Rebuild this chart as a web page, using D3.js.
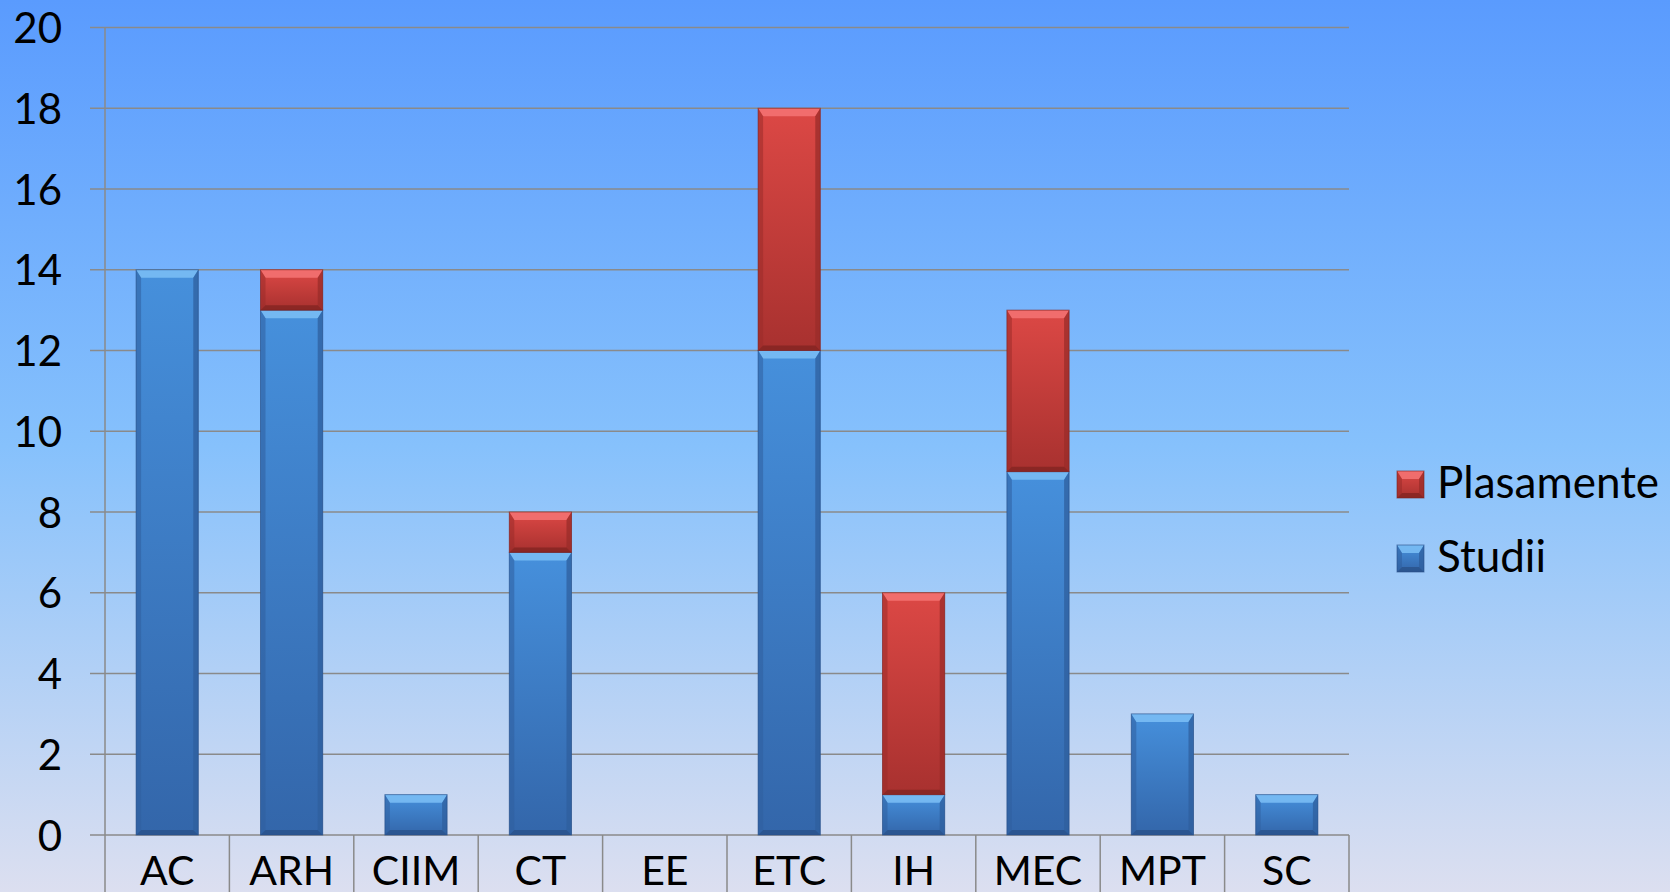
<!DOCTYPE html>
<html>
<head>
<meta charset="utf-8">
<script src="https://cdn.jsdelivr.net/npm/d3@7"></script>
<style>
  html, body { margin: 0; padding: 0; overflow: hidden; }
  svg text { font-family: Lato, "Open Sans", sans-serif; fill: #000; }
</style>
</head>
<body>
<div id="vis"></div>
<script>
// chart values
var categories = ["AC", "ARH", "CIIM", "CT", "EE", "ETC", "IH", "MEC", "MPT", "SC"];
var studii = [14, 13, 1, 7, 0, 12, 1, 9, 3, 1];
var plasamente = [0, 1, 0, 1, 0, 6, 5, 4, 0, 0];
var seriesNames = ["Studii", "Plasamente"];
var yTicks = [0, 2, 4, 6, 8, 10, 12, 14, 16, 18, 20];

var W = 1670, H = 892;
var mLeft = 105, mRight = 1349, mTop = 27.5, mBottom = 835;

var svg = d3.select("#vis").append("svg")
  .attr("width", W).attr("height", H);

var defs = svg.append("defs");
var bg = defs.append("linearGradient").attr("id", "bg")
  .attr("x1", 0).attr("y1", 0).attr("x2", 0).attr("y2", 1);
bg.append("stop").attr("offset", 0).attr("stop-color", "#5a9bfe");
bg.append("stop").attr("offset", 0.5).attr("stop-color", "#86c1fc");
bg.append("stop").attr("offset", 1).attr("stop-color", "#dcdff0");

var colors = {
  Studii: { top: "#4690dc", bot: "#3366aa", hi: "#7cc0f6", side: "#2f5f9e", low: "#284f85" },
  Plasamente: { top: "#dc4845", bot: "#a8312f", hi: "#f47474", side: "#9a2c2a", low: "#7d2220" }
};
seriesNames.forEach(function(k) {
  var g = defs.append("linearGradient").attr("id", "g" + k)
    .attr("x1", 0).attr("y1", 0).attr("x2", 0).attr("y2", 1);
  g.append("stop").attr("offset", 0).attr("stop-color", colors[k].top);
  g.append("stop").attr("offset", 1).attr("stop-color", colors[k].bot);
});

svg.append("rect").attr("width", W).attr("height", H).attr("fill", "url(#bg)");

var x = d3.scaleBand().domain(categories).range([mLeft, mRight])
  .paddingInner(0.5).paddingOuter(0.25);
var y = d3.scaleLinear().domain([0, 20]).range([mBottom, mTop]);

// gridlines
svg.append("g").selectAll("line").data(yTicks).enter().append("line")
  .attr("x1", mLeft - 15).attr("x2", mRight)
  .attr("y1", function(d) { return y(d); }).attr("y2", function(d) { return y(d); })
  .attr("stroke", "#8a8a8a").attr("stroke-width", 1.5);

// category separators
var step = x.step();
svg.append("g").selectAll("line").data(d3.range(categories.length + 1)).enter().append("line")
  .attr("x1", function(i) { return mLeft + i * step; })
  .attr("x2", function(i) { return mLeft + i * step; })
  .attr("y1", function(i) { return i == 0 ? mTop : mBottom; })
  .attr("y2", H)
  .attr("stroke", "#8a8a8a").attr("stroke-width", 1.5);

// y labels
var yAxis = svg.append("g").attr("transform", "translate(" + (mLeft - 15) + ",0)")
  .call(d3.axisLeft(y).tickValues(yTicks).tickSize(0).tickPadding(28));
yAxis.select(".domain").remove();
yAxis.selectAll("text").attr("font-size", 42).attr("dy", "0.36em")
  .style("font-family", "Lato, 'Open Sans', sans-serif").attr("fill", "#000");

// x labels
var xAxis = svg.append("g").attr("transform", "translate(0," + mBottom + ")")
  .call(d3.axisBottom(x).tickSize(0).tickPadding(0));
xAxis.select(".domain").remove();
xAxis.selectAll("text").attr("font-size", 41).attr("y", 50).attr("dy", 0)
  .style("font-family", "Lato, 'Open Sans', sans-serif").attr("fill", "#000");

// stacked bars
var table = categories.map(function(c, i) {
  return { cat: c, Studii: studii[i], Plasamente: plasamente[i] };
});
var stacked = d3.stack().keys(seriesNames)(table);

function bevelBar(g, x0, y0, w, h, c, fillId) {
  if (h <= 0) return;
  var bt = Math.min(8, h / 2), bs = 5, bb = Math.min(5, h / 2);
  g.append("rect").attr("x", x0).attr("y", y0).attr("width", w).attr("height", h)
    .attr("fill", "url(#" + fillId + ")");
  // top face
  g.append("polygon").attr("points", [
    [x0, y0], [x0 + w, y0], [x0 + w - bs, y0 + bt], [x0 + bs, y0 + bt]
  ].join(" ")).attr("fill", c.hi).attr("opacity", 0.85);
  // left / right faces
  g.append("polygon").attr("points", [
    [x0, y0], [x0 + bs, y0 + bt], [x0 + bs, y0 + h - bb], [x0, y0 + h]
  ].join(" ")).attr("fill", c.side).attr("opacity", 0.55);
  g.append("polygon").attr("points", [
    [x0 + w, y0], [x0 + w - bs, y0 + bt], [x0 + w - bs, y0 + h - bb], [x0 + w, y0 + h]
  ].join(" ")).attr("fill", c.side).attr("opacity", 0.75);
  // bottom face
  g.append("polygon").attr("points", [
    [x0, y0 + h], [x0 + w, y0 + h], [x0 + w - bs, y0 + h - bb], [x0 + bs, y0 + h - bb]
  ].join(" ")).attr("fill", c.low).attr("opacity", 0.7);
  g.append("rect").attr("x", x0).attr("y", y0).attr("width", w).attr("height", h)
    .attr("fill", "none").attr("stroke", c.low).attr("stroke-opacity", 0.6).attr("stroke-width", 1);
}

stacked.forEach(function(layer) {
  var g = svg.append("g").attr("class", "series-" + layer.key);
  layer.forEach(function(d) {
    var y0 = y(d[1]), h = y(d[0]) - y(d[1]);
    bevelBar(g, x(d.data.cat), y0, x.bandwidth(), h, colors[layer.key], "g" + layer.key);
  });
});

// legend
var legendItems = ["Plasamente", "Studii"];
var lg = svg.append("g").attr("transform", "translate(1397,471)");
legendItems.forEach(function(k, i) {
  var row = lg.append("g").attr("transform", "translate(0," + (i * 74) + ")");
  bevelBar(row, 0, 0, 27, 27, colors[k], "g" + k);
  row.append("text").attr("x", 40).attr("y", 27).attr("font-size", 44).text(k);
});
</script>
</body>
</html>
